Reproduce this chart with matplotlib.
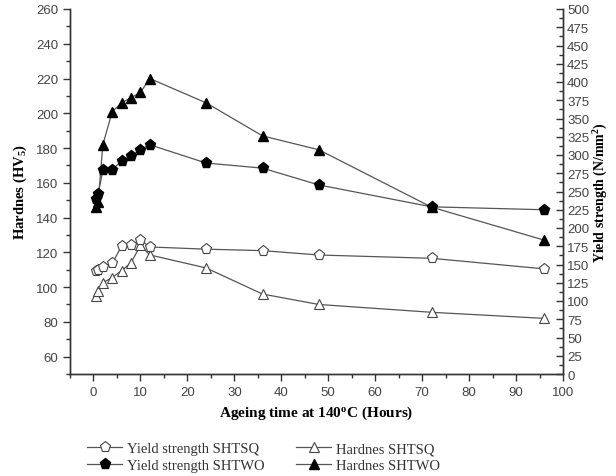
import matplotlib
matplotlib.use("Agg")
import matplotlib.pyplot as plt
from matplotlib.ticker import MultipleLocator
from matplotlib.lines import Line2D

plt.rcParams["mathtext.fontset"] = "custom"
plt.rcParams["mathtext.rm"] = "Liberation Serif:bold"
plt.rcParams["mathtext.it"] = "Liberation Serif:bold"
plt.rcParams["mathtext.bf"] = "Liberation Serif:bold"

time_h = [0.5, 1, 2, 4, 6, 8, 10, 12, 24, 36, 48, 72, 96]
yield_shtsq = [141.5, 143, 147, 151.5, 175.5, 176.5, 184, 174, 171, 169, 163, 158.5, 144]
hard_shtsq = [95, 98, 102.5, 105.5, 109.5, 114, 124, 118.5, 111, 96, 90, 85.5, 82]
yield_shtwo = [240, 247, 279, 280, 292, 299, 307, 314, 289, 282, 259, 229, 225]
hard_shtwo = [146, 149, 182, 201, 206, 209, 212, 220, 206, 187, 179, 146, 127]

labels = ["Yield strength SHTSQ", "Yield strength SHTWO", "Hardnes SHTSQ", "Hardnes SHTWO"]

fig = plt.figure(figsize=(6.16, 4.77), dpi=100)
ax = fig.add_axes([70/616, 1-375/477, (563-70)/616, (375-10)/477])
ax2 = ax.twinx()

line_c = "#555555"
tick_c = "#444444"
ms = 7

ax2.plot(time_h, yield_shtsq, color=line_c, lw=0.9, marker="p", ms=ms+1,
         mfc="white", mec="#444444", mew=0.8, zorder=3)
ax.plot(time_h, hard_shtsq, color=line_c, lw=0.9, marker="^", ms=ms,
        mfc="white", mec="#444444", mew=0.8, zorder=3)
ax2.plot(time_h, yield_shtwo, color=line_c, lw=0.9, marker="p", ms=ms+1,
         mfc="black", mec="black", zorder=3)
ax.plot(time_h, hard_shtwo, color=line_c, lw=0.9, marker="^", ms=ms,
        mfc="black", mec="black", zorder=3)

ax.set_xlim(-5, 100)
ax.set_ylim(50, 260)
ax2.set_ylim(0, 500)

ax.xaxis.set_minor_locator(MultipleLocator(5))
ax.yaxis.set_minor_locator(MultipleLocator(10))
ax2.yaxis.set_major_locator(MultipleLocator(25))
ax2.yaxis.set_minor_locator(MultipleLocator(12.5))
ax.set_yticks(range(60, 261, 20))
ax.set_xticks(range(0, 101, 10))

for a in (ax, ax2):
    a.spines["top"].set_visible(False)
    for s in a.spines.values():
        s.set_color("#333333")
        s.set_linewidth(1.0)

ax.tick_params(axis="both", which="major", direction="out", length=5, width=1,
               colors="#333333", labelcolor=tick_c)
ax.tick_params(axis="both", which="minor", direction="out", length=3, width=1, colors="#333333")
ax2.tick_params(axis="y", which="major", direction="in", length=5, width=1,
                colors="#333333", labelcolor=tick_c, pad=3)
ax2.tick_params(axis="y", which="minor", direction="in", length=3, width=1, colors="#333333")
for lab in ax.get_xticklabels() + ax.get_yticklabels() + ax2.get_yticklabels():
    lab.set_fontfamily("Liberation Sans")
    lab.set_fontsize(9.5)

serif = "Liberation Serif"
ax.set_ylabel("Hardnes (HV$_5$)", fontfamily=serif, fontweight="bold", fontsize=10.5,
              labelpad=5)
ax2.set_ylabel("Yield strength (N/mm$^2$)", fontfamily=serif, fontweight="bold",
               fontsize=10, labelpad=2)
ax.set_xlabel("Ageing time at 140$^{\\mathrm{o}}$C (Hours)", fontfamily=serif,
              fontweight="bold", fontsize=11, labelpad=4)

handles = [
    Line2D([], [], color=line_c, lw=0.9, marker="p", ms=ms+1, mfc="white", mec="#444444", mew=0.8),
    Line2D([], [], color=line_c, lw=0.9, marker="p", ms=ms+1, mfc="black", mec="black"),
    Line2D([], [], color=line_c, lw=0.9, marker="^", ms=ms, mfc="white", mec="#444444", mew=0.8),
    Line2D([], [], color=line_c, lw=0.9, marker="^", ms=ms, mfc="black", mec="black"),
]
leg = fig.legend(handles, labels, ncol=2, loc="upper left", bbox_to_anchor=(80/616, 1-436/477),
                 frameon=False, prop=dict(family=serif, size=10.5), handlelength=2.4,
                 columnspacing=2.2, labelspacing=0.2, handletextpad=0.3, borderpad=0)
for t in leg.get_texts():
    t.set_color("#333333")

fig.savefig("out.png", dpi=100)
